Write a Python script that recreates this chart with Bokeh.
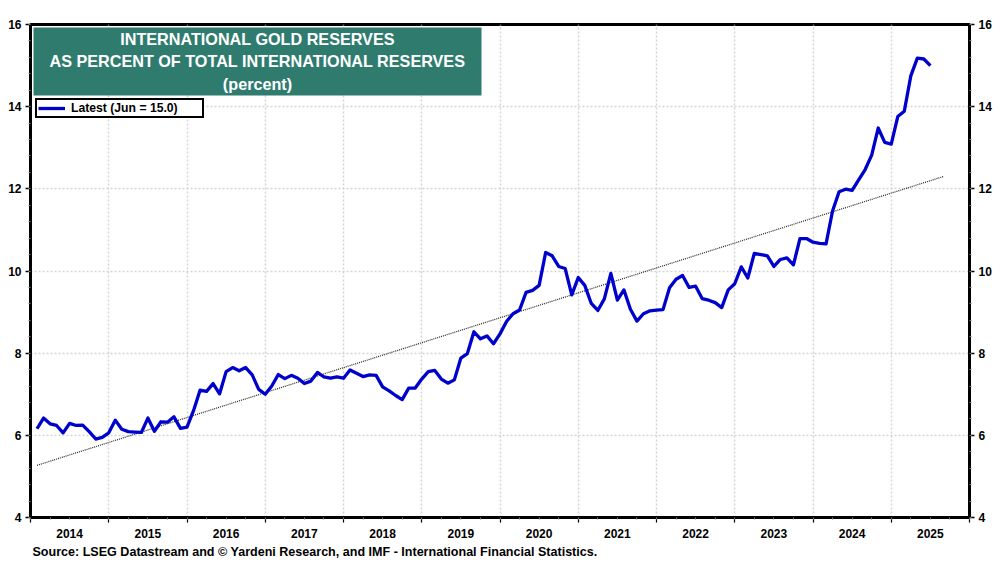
from bokeh.plotting import figure
from bokeh.models import (LinearAxis, FixedTicker, BoxAnnotation, Label, Legend, LegendItem,
                          Range1d, Grid, Title)
from bokeh.embed import file_html
from bokeh.resources import INLINE

FONT = "Liberation Sans"
BLUE = "#0000CC"
TEAL = "#2F7B6E"

# Monthly readings, Jan 2014 .. Jun 2025
START_YEAR = 2014
gold_share = [
    6.16, 6.42, 6.28, 6.24, 6.06, 6.29, 6.24, 6.25, 6.09, 5.91, 5.95, 6.06,
    6.37, 6.15, 6.09, 6.08, 6.07, 6.42, 6.10, 6.33, 6.32, 6.45, 6.17, 6.20,
    6.60, 7.10, 7.07, 7.26, 7.01, 7.55, 7.65, 7.57, 7.65, 7.47, 7.12, 7.00,
    7.20, 7.48, 7.38, 7.46, 7.39, 7.26, 7.32, 7.53, 7.42, 7.39, 7.42, 7.39,
    7.59, 7.51, 7.43, 7.47, 7.46, 7.18, 7.08, 6.97, 6.87, 7.15, 7.15, 7.37,
    7.55, 7.58, 7.37, 7.27, 7.35, 7.88, 7.99, 8.52, 8.35, 8.42, 8.23, 8.47,
    8.77, 8.96, 9.05, 9.48, 9.53, 9.65, 10.45, 10.37, 10.11, 10.06, 9.42, 9.84,
    9.65, 9.21, 9.04, 9.32, 9.94, 9.29, 9.54, 9.07, 8.78, 8.96, 9.03, 9.05,
    9.06, 9.59, 9.80, 9.89, 9.60, 9.63, 9.33, 9.29, 9.23, 9.11, 9.54, 9.69,
    10.10, 9.83, 10.43, 10.40, 10.37, 10.11, 10.28, 10.32, 10.15, 10.79, 10.79, 10.70,
    10.67, 10.66, 11.46, 11.93, 11.99, 11.96, 12.22, 12.47, 12.82, 13.48, 13.13, 13.09,
    13.76, 13.89, 14.75, 15.18, 15.16, 15.00,
]
# Trend line: readings at its two ends (Jan 2014 and Aug 2025, as month indices)
trend_months = [0, 139]
trend_values = [5.27, 12.30]

year_labels = list(range(2014, 2026))
y_ticks = [4, 6, 8, 10, 12, 14, 16]
title_lines = ["INTERNATIONAL GOLD RESERVES",
               "AS PERCENT OF TOTAL INTERNATIONAL RESERVES",
               "(percent)"]
legend_text = "Latest (Jun = 15.0)"
source_text = "Source: LSEG Datastream and © Yardeni Research, and IMF - International Financial Statistics."

# Geometry of the frame in the picture (px)
FL, FR, FT, FB = 30.0, 969.0, 24.0, 517.0
X0, X1, Y0, Y1 = 2014.0, 2026.0, 4.0, 16.0
def px(x):  return X0 + (x - FL) / (FR - FL) * (X1 - X0)
def py(y):  return Y0 + (FB - y) / (FB - FT) * (Y1 - Y0)
def month_x(i):  return START_YEAR + (i + 1) / 12.0

p = figure(width=1000, height=563, output_backend="svg", toolbar_location=None,
           x_range=Range1d(X0, X1), y_range=Range1d(Y0, Y1),
           min_border_left=int(FL), min_border_right=int(1000 - FR),
           min_border_top=int(FT), min_border_bottom=int(563 - FB),
           x_axis_location=None, y_axis_location=None,
           background_fill_color="white", border_fill_color="white")
p.outline_line_color = "black"
p.outline_line_width = 3

year_edges = [X0 + i for i in range(13)]
quarter_ticks = [X0 + i / 4 for i in range(49)]
y_minor = [4 + i * 0.4 for i in range(31)]

def style_y(ax):
    ax.ticker = FixedTicker(ticks=y_ticks, minor_ticks=y_minor)
    ax.axis_line_color = "black"
    ax.axis_line_width = 3
    ax.major_tick_line_color = "black"
    ax.major_tick_line_width = 1.5
    ax.major_tick_out = 5
    ax.major_tick_in = 0
    ax.minor_tick_line_color = "#777777"
    ax.minor_tick_out = 2
    ax.minor_tick_in = 0
    ax.major_label_text_font = FONT
    ax.major_label_text_font_style = "bold"
    ax.major_label_text_font_size = "12px"
    ax.major_label_text_color = "black"
    ax.major_label_standoff = 4

left = LinearAxis(); style_y(left); p.add_layout(left, "left")
right = LinearAxis(); style_y(right); p.add_layout(right, "right")

tick_axis = LinearAxis(ticker=FixedTicker(ticks=year_edges, minor_ticks=quarter_ticks))
tick_axis.axis_line_color = "black"
tick_axis.axis_line_width = 3
tick_axis.major_tick_line_color = "black"
tick_axis.major_tick_line_width = 1.2
tick_axis.major_tick_out = 5
tick_axis.major_tick_in = 0
tick_axis.minor_tick_line_color = "#777777"
tick_axis.minor_tick_out = 2
tick_axis.minor_tick_in = 0
tick_axis.major_label_text_font_size = "0px"
tick_axis.major_label_standoff = 0
tick_axis.major_label_overrides = {e: "" for e in year_edges}
p.add_layout(tick_axis, "below")

mid_years = [y + 0.5 for y in year_labels]
label_axis = LinearAxis(ticker=FixedTicker(ticks=mid_years))
label_axis.axis_line_color = None
label_axis.major_tick_line_color = None
label_axis.minor_tick_line_color = None
label_axis.major_tick_out = 0
label_axis.major_tick_in = 0
label_axis.major_label_overrides = {m: str(y) for m, y in zip(mid_years, year_labels)}
label_axis.major_label_text_font = FONT
label_axis.major_label_text_font_style = "bold"
label_axis.major_label_text_font_size = "12px"
label_axis.major_label_text_color = "black"
label_axis.major_label_standoff = 6
p.add_layout(label_axis, "below")

p.xgrid.visible = False
p.ygrid.visible = False
for dim, tk in ((0, FixedTicker(ticks=year_edges[1:-1])), (1, FixedTicker(ticks=y_ticks[1:-1]))):
    p.add_layout(Grid(dimension=dim, ticker=tk, grid_line_color="#d4d4d4",
                      grid_line_dash=[2, 2], grid_line_width=1.5))

xs = [month_x(i) for i in range(len(gold_share))]
trend = p.line([month_x(i) for i in trend_months], trend_values, line_color="#222222",
               line_width=1.2, line_dash=[1, 1])
main = p.line(xs, gold_share, line_color=BLUE, line_width=3.3, line_join="round")

legend = Legend(items=[LegendItem(label=legend_text, renderers=[main])],
                location=(5, 399), orientation="vertical", margin=0, padding=1,
                spacing=0, label_height=12, glyph_height=12, glyph_width=27,
                label_width=130, label_standoff=6,
                border_line_color="black", border_line_width=2, border_line_alpha=1,
                background_fill_color="white", background_fill_alpha=1,
                label_text_font=FONT, label_text_font_style="bold",
                label_text_font_size="12.2px", label_text_color="black")
p.add_layout(legend, "center")

p.add_layout(BoxAnnotation(left=px(33), right=px(481), top=py(27), bottom=py(95),
                           fill_color=TEAL, fill_alpha=1, line_color=None, level="overlay"))
for line, yc in zip(title_lines, [38, 60, 83]):
    p.add_layout(Label(x=px(257), y=py(yc), text=line, text_align="center", text_baseline="middle",
                       text_color="white", text_font=FONT, text_font_style="bold",
                       text_font_size="16.2px", level="overlay"))

p.add_layout(Title(text=source_text, align="left", offset=2, standoff=5,
                   text_color="black", text_font=FONT, text_font_style="bold",
                   text_font_size="12.55px"), "below")

open("out.html", "w").write(file_html(p, INLINE))
